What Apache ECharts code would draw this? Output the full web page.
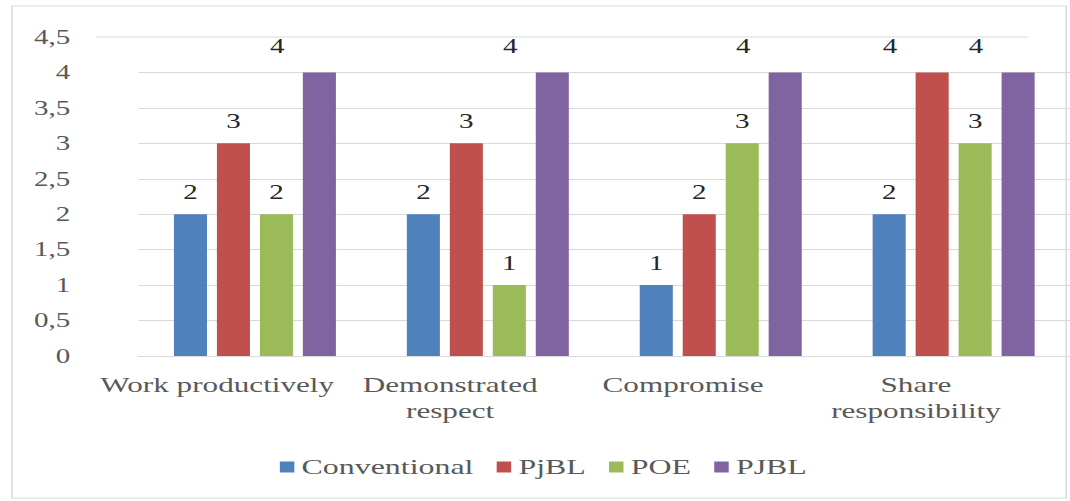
<!DOCTYPE html>
<html>
<head>
<meta charset="utf-8">
<script src="https://cdn.jsdelivr.net/npm/echarts@6/dist/echarts.min.js"></script>
<style>
  html, body { margin: 0; padding: 0; background: #ffffff; overflow: hidden; }
  /* chart is laid out at its native width and stretched horizontally to fill the frame */
  #chart { width: 738px; height: 501px; transform: scaleX(1.45); transform-origin: 0 0; }
</style>
</head>
<body>
<div id="chart"></div>
<script>
// Categories and scores per teaching approach
const categories = ['Work productively', 'Demonstrated\nrespect', 'Compromise', 'Share\nresponsibility'];
const seriesNames = ['Conventional', 'PjBL', 'POE', 'PJBL'];
const conventional = [2, 2, 1, 2];
const pjblLower = [3, 3, 2, 4];
const poe = [2, 1, 3, 3];
const pjblUpper = [4, 4, 4, 4];
const seriesColors = ['#4f81bd', '#c0504d', '#9bbb59', '#8064a2'];
const yMin = 0, yMax = 4.5, yStep = 0.5;

const FONT = 'Liberation Serif, Times New Roman, serif';
const topValue = 4;
const seriesValues = [conventional, pjblLower, poe, pjblUpper];

const allSeries = seriesValues.map((vals, i) => ({
  name: seriesNames[i],
  type: 'bar',
  data: vals,
  barWidth: 22.8,
  barGap: '30%',
  itemStyle: { color: seriesColors[i] },
  label: {
    show: true,
    position: 'top',
    distance: 12,
    color: '#262626',
    fontFamily: FONT,
    fontSize: 20
  },
  // labels of bars reaching the top value sit raised and shifted left
  labelLayout: function (params) {
    if (vals[params.dataIndex] === topValue) {
      return { dx: -29, dy: -4 };
    }
    return {};
  }
}));

// split line colours: every tick except the top one, which is drawn separately
const splitColors = [];
for (let v = yMin; v <= yMax + 1e-9; v += yStep) {
  splitColors.push(Math.abs(v - yMax) < 1e-9 ? 'rgba(0,0,0,0)' : '#d9d9d9');
}

const chart = echarts.init(document.getElementById('chart'), null, { renderer: 'svg' });
chart.setOption({
  animation: false,
  backgroundColor: '#ffffff',
  textStyle: { fontFamily: FONT },
  grid: { left: 95.5, right: 0, top: 37, bottom: 145, outerBoundsMode: 'none', containLabel: false },
  legend: {
    data: seriesNames,
    left: 188,
    top: 451,
    icon: 'rect',
    itemWidth: 10,
    itemHeight: 11,
    itemGap: 16,
    textStyle: { color: '#595959', fontFamily: FONT, fontSize: 22 }
  },
  xAxis: {
    type: 'category',
    data: categories,
    axisLine: { lineStyle: { color: '#d9d9d9' } },
    axisTick: { show: false },
    axisLabel: {
      interval: 0,
      margin: 16,
      // category names sit a little left of their bar groups
      padding: [0, 52, 0, 0],
      color: '#595959',
      fontFamily: FONT,
      fontSize: 21.5,
      lineHeight: 26
    }
  },
  yAxis: {
    type: 'value',
    min: yMin,
    max: yMax,
    interval: yStep,
    axisLine: { show: false },
    axisTick: { show: false },
    splitLine: { lineStyle: { color: splitColors, width: 1 } },
    axisLabel: {
      margin: 47,
      color: '#595959',
      fontFamily: FONT,
      fontSize: 20,
      formatter: v => String(v).replace('.', ',')
    }
  },
  series: allSeries
});

// outer frame and the top grid line, which sits shifted to the left
const c0 = chart.convertToPixel({ xAxisIndex: 0 }, 0);
const c1 = chart.convertToPixel({ xAxisIndex: 0 }, 1);
const cLast = chart.convertToPixel({ xAxisIndex: 0 }, categories.length - 1);
const band = c1 - c0;
const plotLeft = c0 - band / 2;
const plotRight = cLast + band / 2;
const topY = chart.convertToPixel({ yAxisIndex: 0 }, yMax);
const shift = -29;

chart.setOption({
  graphic: [
    {
      type: 'rect',
      shape: { x: 8.3, y: 6, width: 727, height: 492 },
      style: { fill: 'none', stroke: '#d9d9d9', lineWidth: 1 },
      silent: true
    },
    {
      type: 'line',
      shape: { x1: plotLeft + shift, y1: topY, x2: plotRight + shift, y2: topY },
      style: { stroke: '#d9d9d9', lineWidth: 1 },
      silent: true,
      z: -1
    }
  ]
});
</script>
</body>
</html>
